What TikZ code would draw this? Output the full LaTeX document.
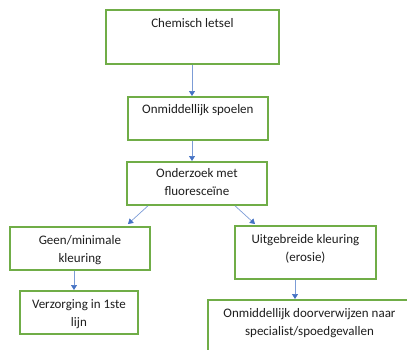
\documentclass[tikz,border=0pt]{standalone}
\usepackage{fontspec}
\setmainfont{Carlito}
\usetikzlibrary{arrows.meta}
\definecolor{boxgreen}{HTML}{70AD47}
\definecolor{arrowblue}{HTML}{4472C4}
\definecolor{ink}{HTML}{1E1E1E}
\tikzset{
  box/.style={draw=boxgreen, line width=1.8pt, fill=white, inner sep=0pt},
  txt/.style={anchor=north, align=center, inner sep=0pt, text=ink,
    font=\fontsize{13}{18.5}\selectfont},
  flow/.style={draw=arrowblue!70, line width=0.7pt,
    -{Triangle[length=5pt, width=6pt, color=arrowblue, fill=arrowblue]}}
}
\begin{document}
\begin{tikzpicture}[x=1pt, y=-1pt]
  \useasboundingbox (0,0) rectangle (407,349);
  \clip (0,0) rectangle (407,349);
  % boxes, placed by their top left corners
  \node[box, minimum width=173pt, minimum height=54pt, anchor=north west] (b1) at (105,9) {};
  \node[box, minimum width=140pt, minimum height=43pt, anchor=north west] (b2) at (127,96) {};
  \node[box, minimum width=140pt, minimum height=43pt, anchor=north west] (b3) at (126,161) {};
  \node[box, minimum width=140pt, minimum height=43pt, anchor=north west] (b4) at (9,226) {};
  \node[box, minimum width=141pt, minimum height=53pt, anchor=north west] (b5) at (234,225) {};
  \node[box, minimum width=118pt, minimum height=43pt, anchor=north west] (b6) at (19,290) {};
  \node[box, minimum width=210pt, minimum height=60pt, anchor=north west] (b7) at (207,299) {};
  % labels
  \node[txt] at ([yshift=-9pt]b1.north) {Chemisch letsel};
  \node[txt] at ([yshift=-8.5pt]b2.north) {Onmiddellijk spoelen};
  \node[txt] at ([yshift=-7pt]b3.north) {Onderzoek met\\fluoresceïne};
  \node[txt] at ([yshift=-9pt]b4.north) {Geen/minimale\\kleuring};
  \node[txt] at ([yshift=-9pt]b5.north) {Uitgebreide kleuring\\(erosie)};
  \node[txt] at ([yshift=-9pt]b6.north) {Verzorging in 1ste\\lijn};
  \node[txt] at (309.5,308) {Onmiddellijk doorverwijzen naar\\specialist/spoedgevallen};
  % connectors
  \draw[flow] (b1.south -| 192,0) -- (b2.north -| 192,0);
  \draw[flow] (b2.south -| 192,0) -- (b3.north -| 192,0);
  \draw[flow] (b3.south -| 148,0) -- (128,224);
  \draw[flow] (b3.south -| 235,0) -- (255,224);
  \draw[flow] (b4.south -| 74,0) -- (b6.north -| 74,0);
  \draw[flow] (b5.south -| 295,0) -- (b7.north -| 295,0);
\end{tikzpicture}
\end{document}
